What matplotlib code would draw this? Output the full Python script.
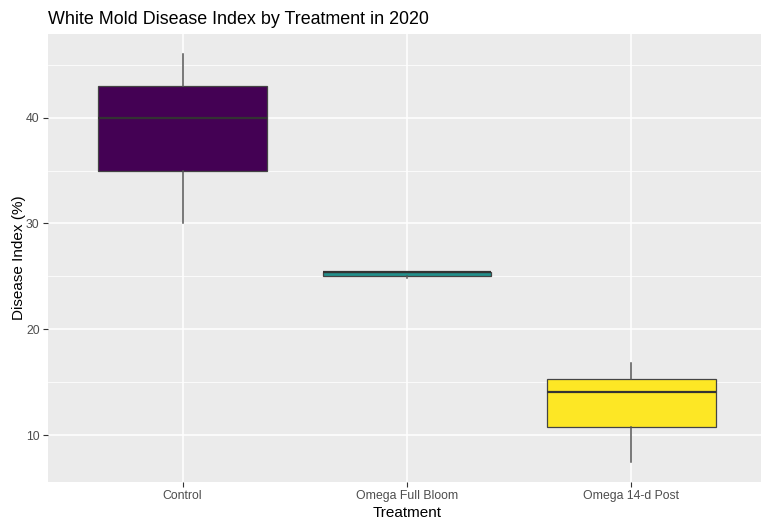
import matplotlib
matplotlib.use("Agg")
import matplotlib.pyplot as plt
from matplotlib.ticker import MultipleLocator

plt.rcParams['font.family'] = ['Liberation Sans', 'DejaVu Sans']

# Box statistics per treatment
treatments = ["Control", "Omega Full Bloom", "Omega 14-d Post"]
whisker_low = [30.0, 24.8, 7.5]
q1 = [35.0, 25.05, 10.8]
median = [40.0, 25.4, 14.1]
q3 = [43.0, 25.45, 15.35]
whisker_high = [46.0, 25.45, 16.8]
fill_colors = ["#440154", "#21908C", "#FDE725"]

stats = []
for name, lo, a, m, b, hi in zip(treatments, whisker_low, q1, median, q3, whisker_high):
    stats.append(dict(label=name, whislo=lo, q1=a, med=m, q3=b, whishi=hi, fliers=[]))

fig = plt.figure(figsize=(7.61, 5.21), dpi=100)
# panel runs slightly past the right edge, like the cropped original export
ax = fig.add_axes([48 / 761, 39.3 / 521, 718 / 761, 447.7 / 521])

edge = "#333333"
bp = ax.bxp(stats, positions=range(1, 4), widths=0.75, patch_artist=True,
            showcaps=False,
            boxprops=dict(edgecolor="#444444", linewidth=0.9),
            whiskerprops=dict(color="#555555", linewidth=1.1),
            medianprops=dict(color=edge, linewidth=1.6))
for patch, c in zip(bp['boxes'], fill_colors):
    patch.set_facecolor(c)

# ggplot-like grey theme
ax.set_facecolor("#EBEBEB")
for s in ax.spines.values():
    s.set_visible(False)
ax.set_xlim(0.4, 3.6)
ax.set_ylim(5.6, 47.9)
ax.yaxis.set_major_locator(MultipleLocator(10))
ax.yaxis.set_minor_locator(MultipleLocator(5))
ax.grid(which="major", color="white", linewidth=1.1)
ax.grid(which="minor", axis="y", color="white", linewidth=0.55)
ax.set_axisbelow(True)
ax.tick_params(which="minor", length=0)
ax.tick_params(which="major", length=3.5, width=0.8, color="#333333",
               labelcolor="#4D4D4D", labelsize=8.8, pad=2.5)
ax.set_xticks(range(1, 4))
ax.set_xticklabels(treatments)

ax.set_xlabel("Treatment", fontsize=11, labelpad=3)
ax.set_ylabel("Disease Index (%)", fontsize=11, labelpad=0)
fig.text(48 / 761, 1 - 19 / 521, "White Mold Disease Index by Treatment in 2020",
         fontsize=12.9, ha="left", va="center")

fig.savefig("out.png", dpi=100)
